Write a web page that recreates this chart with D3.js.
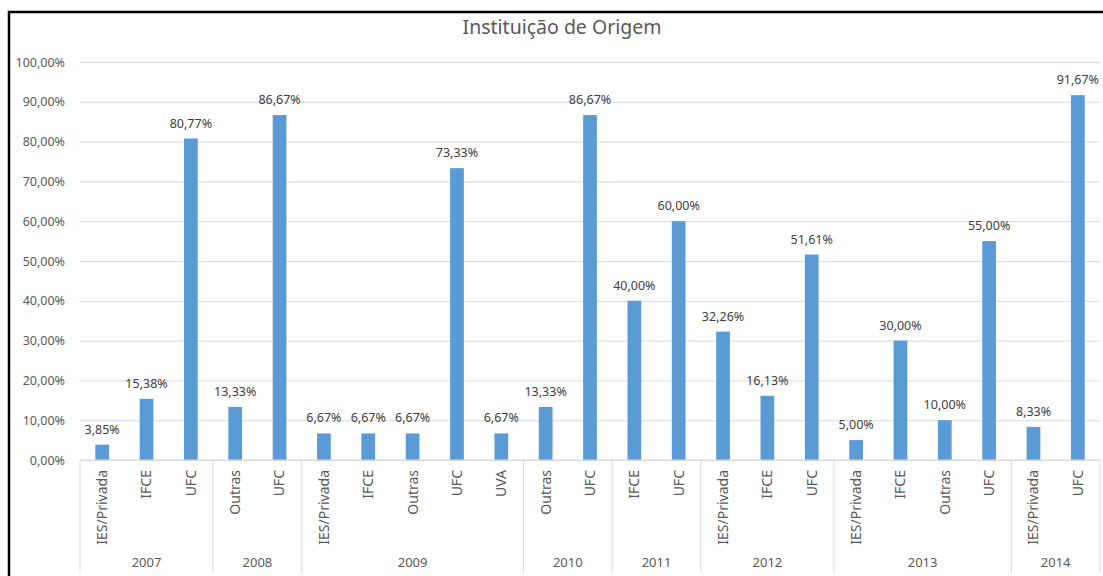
<!DOCTYPE html>
<html>
<head>
<meta charset="utf-8">
<script src="https://cdn.jsdelivr.net/npm/d3@7"></script>
<style>
  body { margin: 0; background: white; }
  svg { display: block; font-family: "Noto Sans", "Open Sans", sans-serif; }
</style>
</head>
<body>
<div id="chart"></div>
<script>
// Chart data
const years = ["2007", "2008", "2009", "2010", "2011", "2012", "2013", "2014"];
const categories = [
  ["IES/Privada", "IFCE", "UFC"],
  ["Outras", "UFC"],
  ["IES/Privada", "IFCE", "Outras", "UFC", "UVA"],
  ["Outras", "UFC"],
  ["IFCE", "UFC"],
  ["IES/Privada", "IFCE", "UFC"],
  ["IES/Privada", "IFCE", "Outras", "UFC"],
  ["IES/Privada", "UFC"]
];
const values = [
  [3.85, 15.38, 80.77],
  [13.33, 86.67],
  [6.67, 6.67, 6.67, 73.33, 6.67],
  [13.33, 86.67],
  [40.00, 60.00],
  [32.26, 16.13, 51.61],
  [5.00, 30.00, 10.00, 55.00],
  [8.33, 91.67]
];
const yTicks = [0, 10, 20, 30, 40, 50, 60, 70, 80, 90, 100];

// Flatten into one row per bar
const data = [];
years.forEach((yr, i) => {
  categories[i].forEach((c, j) => {
    data.push({ key: yr + "|" + c, year: yr, cat: c, value: values[i][j] });
  });
});

const W = 1103, H = 576;
const margin = { left: 80, right: 1100, top: 62, bottom: 460 };

const fmt = v => v.toFixed(2).replace(".", ",") + "%";

const svg = d3.select("#chart").append("svg")
    .attr("width", W)
    .attr("height", H);

svg.append("rect").attr("width", W).attr("height", H).attr("fill", "white");

// Outer border (left and top edges visible)
svg.append("path")
    .attr("d", `M9,${H} L9,12 L${W},12`)
    .attr("fill", "none")
    .attr("stroke", "black")
    .attr("stroke-width", 2.5);

const x = d3.scaleBand()
    .domain(data.map(d => d.key))
    .range([margin.left, margin.right])
    .padding(0);

const y = d3.scaleLinear()
    .domain([0, 100])
    .range([margin.bottom, margin.top]);

// Title
svg.append("text")
    .attr("x", 562)
    .attr("y", 34)
    .attr("text-anchor", "middle")
    .style("font-size", "19.5px")
    .attr("fill", "#595959")
    .text("Instituição de Origem");

// Gridlines and y labels
svg.append("g")
    .attr("transform", `translate(${margin.left},0)`)
    .call(d3.axisLeft(y).tickValues(yTicks).tickSize(-(margin.right - margin.left)).tickFormat(fmt))
    .call(g => g.select(".domain").remove())
    .call(g => g.selectAll(".tick line").attr("stroke", "#d9d9d9").attr("stroke-width", 1))
    .call(g => g.selectAll(".tick text")
        .attr("x", -15)
        .attr("fill", "#595959")
        .style("font-size", "12.5px")
        .style("font-family", "'Noto Sans', sans-serif"));

// Bars
const barW = x.bandwidth() * 0.31;
svg.append("g").selectAll("rect")
    .data(data)
    .enter()
    .append("rect")
    .attr("x", d => x(d.key) + (x.bandwidth() - barW) / 2)
    .attr("y", d => y(d.value))
    .attr("width", barW)
    .attr("height", d => y(0) - y(d.value))
    .attr("fill", "#5b9bd5");

// Value labels
svg.append("g").selectAll("text")
    .data(data)
    .enter()
    .append("text")
    .attr("x", d => x(d.key) + x.bandwidth() / 2)
    .attr("y", d => y(d.value) - 11)
    .attr("text-anchor", "middle")
    .style("font-size", "12.5px")
    .attr("fill", "#404040")
    .text(d => fmt(d.value));

// Category axis: baseline, separators, labels
svg.append("line")
    .attr("x1", margin.left).attr("x2", margin.right)
    .attr("y1", margin.bottom).attr("y2", margin.bottom)
    .attr("stroke", "#d9d9d9");

let idx = 0;
const seps = [margin.left];
const groups = [];
years.forEach((yr, i) => {
  const n = categories[i].length;
  const x0 = x(data[idx].key);
  const x1 = x(data[idx + n - 1].key) + x.bandwidth();
  groups.push({ year: yr, x0, x1 });
  seps.push(x1);
  idx += n;
});

svg.append("g").selectAll("line")
    .data(seps)
    .enter()
    .append("line")
    .attr("x1", d => d).attr("x2", d => d)
    .attr("y1", margin.bottom).attr("y2", H - 3)
    .attr("stroke", "#d9d9d9");

svg.append("g").selectAll("text")
    .data(data)
    .enter()
    .append("text")
    .attr("transform", d => `translate(${x(d.key) + x.bandwidth() / 2},${margin.bottom + 10}) rotate(-90)`)
    .attr("text-anchor", "end")
    .attr("dy", "0.35em")
    .style("font-size", "14px")
    .attr("fill", "#595959")
    .text(d => d.cat);

svg.append("g").selectAll("text")
    .data(groups)
    .enter()
    .append("text")
    .attr("x", d => (d.x0 + d.x1) / 2)
    .attr("y", 567)
    .attr("text-anchor", "middle")
    .style("font-size", "13px")
    .attr("fill", "#595959")
    .text(d => d.year);
</script>
</body>
</html>
